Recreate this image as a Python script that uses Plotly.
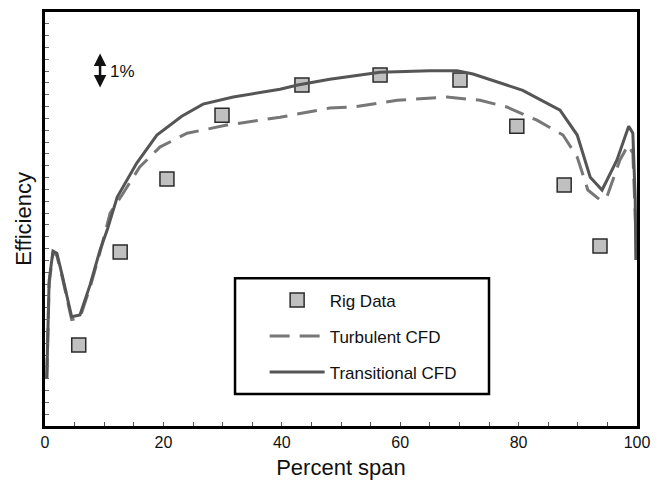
import plotly.graph_objects as go

# Rig data (percent span, efficiency %)
rig_span = [5.7, 12.7, 20.6, 29.9, 43.4, 56.6, 70.1, 79.7, 87.7, 93.75]
rig_eff = [80.28, 82.90, 84.96, 86.76, 87.61, 87.89, 87.75, 86.45, 84.79, 83.07]

# Transitional CFD (solid)
trans_span = [0.3, 0.7, 1.35, 2.0, 2.9, 4.5, 5.9, 7.6, 9.3, 10.5, 12.2, 15.5, 18.9, 23.1,
              26.7, 31.8, 39.7, 42.7, 48.1, 56.6, 65.0, 69.6, 72.3, 80.7, 87.0, 89.9,
              92.1, 94.1, 96.6, 98.6, 99.3, 99.7, 99.8]
trans_eff = [79.35, 82.1, 82.93, 82.87, 82.25, 81.08, 81.13, 81.97, 82.96, 83.52, 84.45,
             85.41, 86.20, 86.73, 87.07, 87.27, 87.49, 87.61, 87.77, 87.97, 88.01, 88.01,
             87.92, 87.46, 86.90, 86.20, 85.01, 84.65, 85.49, 86.45, 86.25, 84.37, 82.68]

# Turbulent CFD (dashed)
turb_span = [0.3, 0.7, 1.35, 2.0, 2.9, 4.5, 5.9, 7.6, 9.3, 11.0, 13.2, 16.0, 19.4, 24.0,
             30.7, 39.7, 48.1, 52.0, 59.5, 67.9, 73.5, 78.0, 83.1, 87.5, 89.9, 91.7,
             93.75, 94.9, 97.1, 98.5, 99.3, 99.8]
turb_eff = [79.35, 82.0, 82.9, 82.8, 82.2, 81.0, 81.05, 81.9, 82.9, 84.0, 84.56, 85.30,
            85.86, 86.25, 86.48, 86.70, 86.96, 86.99, 87.18, 87.27, 87.18, 86.99, 86.62,
            86.20, 85.58, 84.65, 84.37, 84.45, 85.49, 85.92, 85.69, 83.5]

x_ticks = [0, 20, 40, 60, 80, 100]
FONT = "Liberation Sans, Arial, sans-serif"

fig = go.Figure()
fig.add_trace(go.Scatter(
    x=rig_span, y=rig_eff, mode="markers", name="Rig Data", legendgroup="a",
    marker=dict(symbol="square", size=14, color="#c0c0c0",
                line=dict(color="#2a2a2a", width=1.5))))
fig.add_trace(go.Scatter(
    x=turb_span, y=turb_eff, mode="lines", name="Turbulent CFD", legendgroup="b",
    line=dict(color="#777777", width=3, dash="20px,10px")))
fig.add_trace(go.Scatter(
    x=trans_span, y=trans_eff, mode="lines", name="Transitional CFD", legendgroup="c",
    line=dict(color="#555555", width=3)))

# legend frame
fig.add_shape(type="rect", xref="paper", yref="paper",
              x0=0.321, x1=0.75, y0=0.0773, y1=0.357,
              line=dict(color="black", width=2.5), fillcolor="rgba(0,0,0,0)", layer="above")

# 1% scale arrow
fig.add_annotation(x=9.3, y=88.5, ax=9.3, ay=87.5, xref="x", yref="y", axref="x", ayref="y",
                   text="", showarrow=True, arrowhead=2, arrowside="end+start",
                   arrowsize=1, arrowwidth=2.5, arrowcolor="#111111", standoff=0, startstandoff=0)
fig.add_annotation(x=10.6, y=87.99, xref="x", yref="y", text="1%", showarrow=False,
                   xanchor="left", font=dict(family=FONT, size=17, color="#111111"))

fig.update_layout(
    width=663, height=481,
    margin=dict(l=45, r=26, t=12, b=55, autoexpand=False),
    paper_bgcolor="white", plot_bgcolor="white",
    font=dict(family=FONT, color="#111111"),
    showlegend=True,
    legend=dict(x=0.371, y=0.347, xanchor="left", yanchor="top",
                bgcolor="rgba(0,0,0,0)", borderwidth=0,
                font=dict(family=FONT, size=17, color="#111111"),
                itemwidth=55, tracegroupgap=11, traceorder="grouped"),
    xaxis=dict(range=[0, 100], showgrid=False, zeroline=False, automargin=False,
               showline=True, linecolor="black", linewidth=3, mirror=True,
               tickmode="array", tickvals=x_ticks, ticktext=[str(v) for v in x_ticks],
               ticks="inside", ticklen=4, tickcolor="#555555",
               minor=dict(dtick=5, ticks="inside", ticklen=4, tickcolor="#555555"),
               tickfont=dict(family=FONT, size=16, color="#111111"),
               title=dict(text="Percent span", font=dict(family=FONT, size=22, color="#111111"),
                          standoff=10)),
    yaxis=dict(range=[78.0, 89.667], showgrid=False, zeroline=False, automargin=False,
               showline=True, linecolor="black", linewidth=3, mirror=True,
               tickmode="linear", tick0=78.0, dtick=1/3, showticklabels=False,
               ticks="inside", ticklen=4, tickcolor="#666666",
               title=dict(text="Efficiency", font=dict(family=FONT, size=22, color="#111111"),
                          standoff=5)),
)

fig.write_html("out.html")
